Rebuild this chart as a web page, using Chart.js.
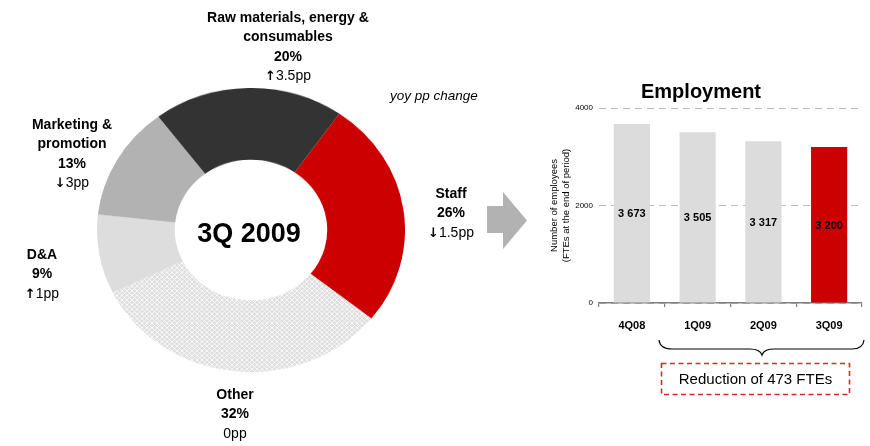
<!DOCTYPE html>
<html>
<head>
<meta charset="utf-8">
<script src="https://cdn.jsdelivr.net/npm/chart.js@4.4.0/dist/chart.umd.min.js"></script>
<style>
body{margin:0;background:#fff;font-family:"Liberation Sans",Arial,sans-serif;}
#page{position:relative;width:870px;height:446px;overflow:hidden;}
.lbl{position:absolute;width:220px;text-align:center;font-size:14px;line-height:19.3px;color:#000;}
.lbl b{font-weight:bold;}
.lbl i{font-style:normal;font-weight:bold;font-family:"DejaVu Sans",sans-serif;font-size:13px;}
#ringBox{position:absolute;left:97px;top:88px;width:308px;height:308px;transform:scaleY(0.922);transform-origin:0 0;}
#center{position:absolute;left:149px;top:216px;width:200px;text-align:center;font-weight:bold;font-size:27px;line-height:34px;}
#yoy{position:absolute;left:390px;top:88px;font-style:italic;font-size:13.5px;}
#arrow{position:absolute;left:487px;top:192px;width:40px;height:57px;background:#b2b2b2;
 clip-path:polygon(0 14px,16px 14px,16px 0,40px 28.5px,16px 57px,16px 41px,0 41px);}
#barBox{position:absolute;left:540px;top:70px;width:330px;height:270px;}
#reduc{position:absolute;left:661px;top:363px;width:189px;height:32px;
 text-align:center;font-size:15px;line-height:32px;}
</style>
</head>
<body>
<div id="page">
  <div id="ringBox"><canvas id="ring" width="308" height="308"></canvas></div>
  <div id="center">3Q 2009</div>
  <div id="yoy">yoy pp change</div>
  <div id="arrow"></div>
  <div id="barBox"><canvas id="bars" width="330" height="270"></canvas></div>
  <svg style="position:absolute;left:0;top:0" width="870" height="446">
    <path d="M659,340 Q660,349 672,349 L750,349 Q760,349 762,355 Q764,349 774,349 L852,349 Q863,349 864,340"
      fill="none" stroke="#000" stroke-width="1.2"/>
    <rect x="661.5" y="363.5" width="188" height="31" fill="none" stroke="#d42a2a" stroke-width="1.6" stroke-dasharray="5,3.5"/>
  </svg>
  <div id="reduc">Reduction of 473 FTEs</div>
</div>
<script>
// 成本结构 3Q 2009
var costNames = [["Staff"], ["Other"], ["D&A"], ["Marketing &", "promotion"], ["Raw materials, energy &", "consumables"]];
var costShare = [26, 32, 9, 13, 20];
var costChange = [-1.5, 0, 1, -3, 3.5];
var costColors = ["#cc0000", "pattern", "#dddddd", "#b2b2b2", "#333333"];
// 标签位置 (中心x, 顶部y)
var labelPos = [[451, 184], [235, 385], [42, 245], [72, 115], [288, 8]];

// 员工人数
var quarters = ["4Q08", "1Q09", "2Q09", "3Q09"];
var employees = [3673, 3505, 3317, 3200];
var barColors = ["#dcdcdc", "#dcdcdc", "#dcdcdc", "#cc0000"];
var yTicks = [0, 2000, 4000];

function hatch(){
    var c = document.createElement('canvas');
    c.width = 5; c.height = 5;
    var g = c.getContext('2d');
    g.fillStyle = '#dedede';
    g.fillRect(0, 0, 5, 5);
    g.strokeStyle = 'rgba(255,255,255,0.85)';
    g.lineWidth = 1;
    g.beginPath();
    g.moveTo(0, 0); g.lineTo(5, 5);
    g.moveTo(5, 0); g.lineTo(0, 5);
    g.stroke();
    return g.createPattern(c, 'repeat');
}

function fmt(v){
    return String(v).replace(/\B(?=(\d{3})+(?!\d))/g, ' ');
}

// 标签
var page = document.getElementById('page');
costNames.forEach(function(n, i){
    var d = document.createElement('div');
    d.className = 'lbl';
    d.style.left = (labelPos[i][0] - 110) + 'px';
    d.style.top = labelPos[i][1] + 'px';
    var html = '';
    n.forEach(function(t){ html += '<b>' + t.replace('&', '&amp;') + '</b><br>'; });
    html += '<b>' + costShare[i] + '%</b><br>';
    var ch = costChange[i];
    if (ch > 0) html += '<i>\u2191</i>' + ch + 'pp';
    else if (ch < 0) html += '<i>\u2193</i>' + Math.abs(ch) + 'pp';
    else html += '0pp';
    d.innerHTML = html;
    page.appendChild(d);
});

var pat = hatch();
new Chart(document.getElementById('ring'), {
    type: 'doughnut',
    data: {
        labels: costNames.map(function(n){ return n.join(' '); }),
        datasets: [{
            data: costShare,
            backgroundColor: costColors.map(function(c){ return c == 'pattern' ? pat : c; }),
            borderWidth: 0,
            hoverOffset: 0
        }]
    },
    options: {
        responsive: false,
        animation: false,
        rotation: 35,
        cutout: '49.5%',
        layout: {padding: 0},
        plugins: {legend: {display: false}, tooltip: {enabled: false}}
    }
});

var barValues = {
    id: 'barValues',
    afterDatasetsDraw: function(chart){
        var ctx = chart.ctx;
        var meta = chart.getDatasetMeta(0);
        ctx.save();
        ctx.font = 'bold 11px "Liberation Sans", Arial, sans-serif';
        ctx.fillStyle = '#000';
        ctx.textAlign = 'center';
        ctx.textBaseline = 'middle';
        meta.data.forEach(function(bar, i){
            ctx.fillText(fmt(employees[i]), bar.x, (bar.y + bar.base) / 2 + 1);
        });
        ctx.restore();
    }
};

new Chart(document.getElementById('bars'), {
    type: 'bar',
    data: {
        labels: quarters,
        datasets: [{
            data: employees,
            backgroundColor: barColors,
            categoryPercentage: 1,
            barPercentage: 0.55
        }]
    },
    plugins: [barValues],
    options: {
        responsive: false,
        animation: false,
        layout: {padding: {right: 8, left: 0, top: 0, bottom: 0}},
        plugins: {
            legend: {display: false},
            tooltip: {enabled: false},
            title: {
                display: true,
                text: 'Employment',
                color: '#000',
                font: {size: 20, weight: 'bold', family: '"Liberation Sans", Arial, sans-serif'},
                padding: {top: 10, bottom: 4}
            }
        },
        scales: {
            x: {
                grid: {display: true, drawOnChartArea: false, offset: true, tickLength: 4, color: '#808080', lineWidth: 1.2},
                border: {display: true, color: '#808080', width: 1.5},
                ticks: {color: '#000', padding: 12, font: {size: 11, weight: 'bold', family: '"Liberation Sans", Arial, sans-serif'}},
                afterFit: function(s){ s.height = 37; }
            },
            y: {
                min: 0,
                max: 4000,
                afterBuildTicks: function(s){ s.ticks = yTicks.map(function(v){ return {value: v}; }); },
                grid: {color: '#bbbbbb', lineWidth: 1, drawTicks: false},
                border: {display: false, dash: [7, 5]},
                ticks: {
                    color: '#000', padding: 6,
                    font: {size: 8, family: '"Liberation Sans", Arial, sans-serif'},
                    callback: function(v){ return String(v); }
                },
                title: {
                    display: true,
                    text: ['Number of employees', '(FTEs at the end of period)'],
                    color: '#000',
                    font: {size: 9.5, family: '"Liberation Sans", Arial, sans-serif'},
                    padding: {top: 9, bottom: 0}
                },
                afterFit: function(s){ s.width = 59; }
            }
        }
    }
});
</script>
</body>
</html>
